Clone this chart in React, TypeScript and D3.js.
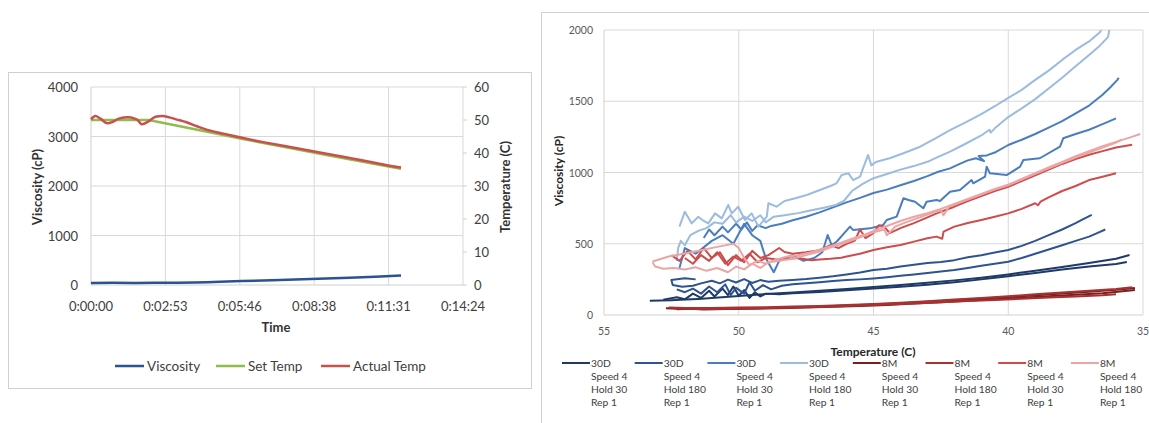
import React from 'react';
import * as d3 from 'd3';

// ---------------- Left chart data ----------------
const timeTicks = [0, 172.8, 345.6, 518.4, 691.2, 864];
const timeTickLabels = ['0:00:00', '0:02:53', '0:05:46', '0:08:38', '0:11:31', '0:14:24'];
const viscTicksLeft = [0, 1000, 2000, 3000, 4000];
const tempTicksLeft = [0, 10, 20, 30, 40, 50, 60];

const viscTime = [0, 50, 100, 150, 200, 240, 270, 300, 350, 420, 510, 600, 660, 720];
const viscValues = [40, 44, 42, 45, 45, 50, 58, 65, 80, 95, 120, 145, 165, 190];

const setTempTime = [0, 134, 250, 350, 450, 550, 650, 720];
const setTempValues = [50, 50, 47.0, 44.3, 41.8, 39.3, 36.9, 35.2];

const actualTempTime = [0, 10, 22, 38, 50, 66, 86, 100, 108, 118, 134, 150, 166, 182, 198, 222, 246, 270, 310, 351, 400, 450, 500, 550, 600, 650, 700, 720];
const actualTempValues = [50.2, 51.2, 50.4, 49.0, 49.4, 50.5, 50.8, 50.5, 50.0, 48.7, 49.6, 51.0, 51.2, 50.8, 50.2, 49.3, 48.1, 47.0, 45.8, 44.6, 43.3, 42.1, 40.9, 39.7, 38.5, 37.3, 36.0, 35.6];

const leftLegendNames = ['Viscosity', 'Set Temp', 'Actual Temp'];
const leftColors = ['#2b5291', '#8fbc4c', '#c9504c'];

// ---------------- Right chart data ----------------
const tempTicksRight = [55, 50, 45, 40, 35];
const viscTicksRight = [0, 500, 1000, 1500, 2000];

const legendSample = ['30D', '30D', '30D', '30D', '8M', '8M', '8M', '8M'];
const legendSpeed = ['Speed 4', 'Speed 4', 'Speed 4', 'Speed 4', 'Speed 4', 'Speed 4', 'Speed 4', 'Speed 4'];
const legendHold = ['Hold 30', 'Hold 180', 'Hold 30', 'Hold 180', 'Hold 30', 'Hold 180', 'Hold 30', 'Hold 180'];
const legendRep = ['Rep 1', 'Rep 1', 'Rep 1', 'Rep 1', 'Rep 1', 'Rep 1', 'Rep 1', 'Rep 1'];
const rightColors = ['#1f3a68', '#2d5391', '#4a7dc0', '#9bbbe0', '#7a1f1f', '#a83232', '#cd4c4c', '#eba5a5'];

// [temperature C, viscosity cP]
const d1: number[][] = [[53.3,100],[52.5,104],[52.0,108],[51.5,113],[51.0,119],[50.5,126],[50.0,133],[49.5,140],[49.0,147],[48.5,152],[48.0,158],[47.0,170],[46.0,183],[45.0,197],[44.0,211],[43.0,226],[42.0,243],[41.0,262],[40.0,285],[39.0,310],[38.0,337],[37.0,365],[36.0,395],[35.5,421]];
const d2: number[][] = [[52.8,108],[52.3,125],[52.0,110],[51.7,150],[51.4,120],[51.1,170],[50.9,130],[50.6,185],[50.4,140],[50.2,200],[50.0,135],[49.8,175],[49.6,120],[49.4,160],[49.2,130],[49.0,150],[48.5,145],[48.0,152],[47.0,162],[46.0,173],[45.0,186],[44.0,198],[43.0,213],[42.0,230],[41.0,250],[40.0,272],[39.0,295],[38.0,320],[37.0,340],[36.0,358],[35.6,372]];
const n1: number[][] = [[51.6,250],[52.0,258],[52.5,245],[52.45,210],[52.1,198],[51.7,205],[51.4,222],[51.0,240],[50.7,222],[50.4,248],[50.1,228],[49.8,252],[49.5,225],[49.2,245],[48.9,233],[48.5,240],[48.0,245],[47.5,252],[47.0,262],[46.5,272],[46.0,285],[45.5,298],[45.0,316],[44.5,325],[44.0,340],[43.5,352],[43.0,365],[42.5,372],[42.0,385],[41.5,405],[41.0,420],[40.5,438],[40.0,456],[39.5,485],[39.0,520],[38.5,560],[38.0,600],[37.5,645],[37.2,675],[36.9,702]];
const n2: number[][] = [[52.3,180],[52.0,160],[51.7,185],[51.4,150],[51.1,200],[50.8,160],[50.5,215],[50.3,140],[50.1,190],[49.8,150],[49.6,230],[49.4,170],[49.1,210],[48.8,180],[48.4,205],[48.0,215],[47.5,222],[47.0,230],[46.5,238],[46.0,245],[45.5,250],[45.0,257],[44.5,265],[44.0,275],[43.5,285],[43.0,295],[42.5,305],[42.0,316],[41.5,330],[41.0,345],[40.5,360],[40.0,374],[39.5,400],[39.0,430],[38.5,460],[38.0,490],[37.5,520],[37.0,550],[36.7,575],[36.4,600]];
const m1: number[][] = [[51.3,540],[51.1,600],[50.9,560],[50.6,620],[50.4,580],[50.1,640],[49.9,600],[49.7,650],[49.5,590],[49.3,630],[49.0,610],[48.8,625],[48.4,640],[48.0,665],[47.5,690],[47.0,720],[46.5,755],[46.0,790],[45.5,822],[45.0,856],[44.5,880],[44.0,910],[43.5,940],[43.0,975],[42.6,1005],[42.16,1029],[41.8,1060],[41.5,1085],[41.2,1100],[40.9,1080],[41.1,1115],[40.8,1120],[40.5,1140],[40.0,1193],[39.5,1230],[39.0,1270],[38.5,1315],[38.0,1360],[37.5,1415],[37.0,1470],[36.5,1545],[36.2,1600],[35.95,1650],[35.9,1665]];
const m2: number[][] = [[52.2,330],[52.0,470],[51.6,430],[51.0,520],[50.6,560],[50.2,500],[49.8,640],[49.5,560],[49.2,520],[49.0,400],[48.7,300],[48.5,380],[48.0,420],[47.6,380],[47.2,400],[46.9,440],[46.7,561],[46.55,491],[46.37,514],[45.87,620],[45.75,596],[45.13,608],[44.64,632],[44.51,667],[44.14,690],[43.89,819],[43.7,807],[43.46,795],[43.15,749],[43.03,795],[42.66,807],[42.53,800],[42.16,865],[41.79,877],[41.36,947],[41.3,924],[40.86,971],[40.8,1041],[40.68,994],[40.06,982],[39.56,1041],[39.44,1088],[38.83,1100],[38.08,1181],[37.96,1240],[37.5,1270],[37.0,1300],[36.5,1340],[36.0,1380]];
const l1: number[][] = [[52.2,620],[52.0,725],[51.75,643],[51.5,690],[51.3,660],[51.13,643],[50.88,713],[50.63,678],[50.39,772],[50.26,713],[50.02,760],[49.77,667],[49.52,713],[49.27,620],[48.96,690],[48.9,784],[48.6,760],[48.3,800],[47.9,819],[47.48,842],[46.99,877],[46.6,905],[46.37,924],[46.18,982],[45.93,994],[45.75,947],[45.5,971],[45.32,1064],[45.2,1123],[45.08,1050],[44.98,1064],[44.88,1076],[44.4,1100],[43.89,1135],[43.27,1181],[42.7,1240],[42.16,1298],[41.6,1350],[41.0,1410],[40.5,1465],[40.0,1523],[39.5,1580],[39.0,1650],[38.5,1715],[38.0,1790],[37.5,1860],[37.0,1920],[36.6,1985],[36.45,2030]];
const l2: number[][] = [[52.3,380],[52.25,470],[52.15,520],[52.0,490],[51.8,560],[51.5,590],[51.2,610],[50.9,650],[50.6,640],[50.3,700],[50.1,650],[49.8,690],[49.5,660],[49.2,700],[49.0,650],[48.7,690],[48.3,700],[47.8,715],[47.3,735],[46.8,755],[46.4,772],[46.1,800],[45.8,870],[45.4,920],[45.0,960],[44.5,990],[44.0,1020],[43.5,1045],[43.0,1075],[42.6,1110],[42.16,1146],[41.6,1200],[41.0,1260],[40.7,1300],[40.65,1280],[40.5,1310],[40.0,1389],[39.5,1450],[39.0,1515],[38.5,1590],[38.0,1665],[37.5,1745],[37.0,1825],[36.6,1890],[36.3,1950],[36.25,2000],[36.2,2040]];
const dr1: number[][] = [[52.7,48],[52.2,44],[51.5,46],[51.0,44],[50.5,46],[50.0,47],[49.0,50],[48.0,54],[47.0,60],[46.0,66],[45.0,73],[44.0,82],[43.0,93],[42.0,104],[41.0,115],[40.0,126],[39.0,138],[38.0,150],[37.0,163],[36.0,177],[35.3,190]];
const dr2: number[][] = [[52.3,40],[51.8,44],[51.3,38],[50.5,42],[49.5,44],[48.5,48],[47.5,53],[46.5,58],[45.5,64],[44.5,71],[43.5,80],[42.5,90],[41.5,100],[40.5,110],[39.5,121],[38.5,132],[37.5,142],[36.5,153],[35.3,175]];
const dr3: number[][] = [[52.6,52],[52.0,50],[51.0,50],[50.0,52],[49.0,55],[48.0,59],[47.0,64],[46.0,70],[45.0,77],[44.0,86],[43.0,97],[42.0,108],[41.0,120],[40.0,132],[39.0,145],[38.0,158],[37.0,170],[36.0,183],[35.4,195]];
const dr4: number[][] = [[52.4,45],[51.5,42],[50.5,44],[49.5,46],[48.5,50],[47.5,55],[46.5,60],[45.5,66],[44.5,73],[43.5,81],[42.5,90],[41.5,98],[40.5,106],[39.5,114],[38.5,122],[37.5,130],[36.5,138],[36.0,145]];
const r1: number[][] = [[52.0,400],[51.7,360],[51.4,420],[51.1,380],[50.8,440],[50.5,360],[50.2,410],[49.9,380],[49.6,430],[49.3,370],[49.0,400],[48.6,390],[48.2,395],[47.8,400],[47.3,385],[47.0,390],[46.6,395],[46.2,402],[46.0,410],[45.5,430],[45.0,456],[44.5,475],[44.0,491],[43.5,515],[43.0,538],[42.66,550],[42.45,535],[42.4,585],[42.0,620],[41.5,645],[41.0,667],[40.5,690],[40.0,713],[39.5,745],[39.0,784],[38.9,770],[38.8,795],[38.5,825],[38.0,870],[37.5,905],[37.0,947],[36.5,970],[36.0,995]];
const r2: number[][] = [[52.5,420],[52.2,380],[51.9,450],[51.6,390],[51.3,470],[51.0,400],[50.7,440],[50.4,350],[50.1,420],[49.8,370],[49.5,450],[49.2,400],[48.9,420],[48.5,470],[48.3,442],[48.0,430],[47.5,440],[47.0,455],[46.6,490],[46.3,470],[46.0,500],[45.7,520],[45.5,600],[45.3,540],[45.0,575],[44.8,630],[44.6,620],[44.4,575],[44.0,610],[43.5,645],[43.0,685],[42.5,725],[42.0,760],[41.5,800],[41.0,835],[40.5,870],[40.0,900],[39.5,940],[39.0,980],[38.5,1020],[38.0,1060],[37.5,1095],[37.0,1125],[36.5,1150],[36.0,1175],[35.4,1195]];
const p1: number[][] = [[53.2,375],[52.6,410],[52.0,432],[51.4,455],[50.8,478],[50.2,500],[50.0,470],[49.8,400],[49.6,350],[49.3,380],[49.0,360],[48.6,390],[48.2,410],[47.8,420],[47.3,440],[46.8,470],[46.3,500],[45.8,535],[45.3,565],[45.0,590],[44.5,625],[44.0,660],[43.5,690],[43.0,715],[42.5,745],[42.0,780],[41.5,815],[41.0,850],[40.5,885],[40.0,915],[39.5,955],[39.0,995],[38.5,1035],[38.0,1075],[37.5,1115],[37.0,1150],[36.5,1185],[36.0,1215],[35.5,1245],[35.1,1270]];
const p2: number[][] = [[53.2,370],[53.1,340],[52.8,325],[52.4,330],[52.0,320],[51.6,335],[51.2,310],[50.8,330],[50.4,300],[50.1,340],[49.8,320],[49.5,360],[49.2,330],[48.9,370],[48.5,380],[48.0,395],[47.5,420],[47.0,445],[46.5,480],[46.0,510],[45.5,545],[45.0,580],[44.6,600],[44.5,560],[44.2,620],[43.8,650],[43.0,705],[42.5,735],[42.4,700],[42.2,760],[41.5,810],[41.0,845],[40.5,880],[40.0,910],[39.5,950],[39.0,990],[38.5,1030],[38.0,1068],[37.5,1105],[37.0,1140],[36.5,1175],[36.0,1210],[35.8,1230]];

const rightSeries = [
  { data: d1, c: 0 }, { data: d2, c: 0 },
  { data: n1, c: 1 }, { data: n2, c: 1 },
  { data: m1, c: 2 }, { data: m2, c: 2 },
  { data: l1, c: 3 }, { data: l2, c: 3 },
  { data: dr1, c: 4 }, { data: dr2, c: 4 },
  { data: dr3, c: 5 }, { data: dr4, c: 5 },
  { data: r1, c: 6 }, { data: r2, c: 6 },
  { data: p1, c: 7 }, { data: p2, c: 7 },
];

const FONT = 'Lato, "Open Sans", sans-serif';

function LeftChart() {
  const x = d3.scaleLinear().domain([0, 864]).range([91, 463]);
  const yV = d3.scaleLinear().domain([0, 4000]).range([285, 87]);
  const yT = d3.scaleLinear().domain([0, 60]).range([285, 87]);
  const lineV = d3.line<number>().x((_, i) => x(viscTime[i])).y((d) => yV(d));
  const lineS = d3.line<number>().x((_, i) => x(setTempTime[i])).y((d) => yT(d));
  const lineA = d3.line<number>().x((_, i) => x(actualTempTime[i])).y((d) => yT(d)).curve(d3.curveMonotoneX);
  const legendX = [115, 216, 321];
  return (
    <g fontFamily={FONT}>
      <rect x={8.5} y={72.5} width={523} height={316} fill="#fff" stroke="#d0d0d0" />
      {viscTicksLeft.slice(1).map((v) => (
        <line key={'h' + v} x1={91} x2={463} y1={yV(v)} y2={yV(v)} stroke="#d9d9d9" />
      ))}
      {timeTicks.slice(1).map((t) => (
        <line key={'v' + t} x1={x(t)} x2={x(t)} y1={87} y2={285} stroke="#d9d9d9" />
      ))}
      <line x1={91} x2={91} y1={87} y2={285} stroke="#d0d0d0" />
      <line x1={91} x2={463} y1={285} y2={285} stroke="#d0d0d0" />
      {tempTicksLeft.map((t) => (
        <line key={'rt' + t} x1={463} x2={467} y1={yT(t)} y2={yT(t)} stroke="#d0d0d0" />
      ))}
      {viscTicksLeft.map((v) => (
        <text key={'lv' + v} x={78} y={yV(v)} textAnchor="end" dominantBaseline="central" fontSize={13} fill="#404040">{v}</text>
      ))}
      {tempTicksLeft.map((t) => (
        <text key={'lt' + t} x={474} y={yT(t)} textAnchor="start" dominantBaseline="central" fontSize={13} fill="#404040">{t}</text>
      ))}
      {timeTicks.map((t, i) => (
        <text key={'tx' + t} x={x(t)} y={306} textAnchor="middle" dominantBaseline="central" fontSize={13} fill="#404040">{timeTickLabels[i]}</text>
      ))}
      <text x={276} y={327} textAnchor="middle" dominantBaseline="central" fontSize={13} fontWeight="bold" fill="#333">Time</text>
      <text transform="translate(37,187) rotate(-90)" textAnchor="middle" dominantBaseline="central" fontSize={13} fontWeight="bold" fill="#333">Viscosity (cP)</text>
      <text transform="translate(505,187) rotate(-90)" textAnchor="middle" dominantBaseline="central" fontSize={13} fontWeight="bold" fill="#333">Temperature (C)</text>
      <path d={lineV(viscValues) || ''} fill="none" stroke={leftColors[0]} strokeWidth={2.5} />
      <path d={lineS(setTempValues) || ''} fill="none" stroke={leftColors[1]} strokeWidth={2.5} />
      <path d={lineA(actualTempValues) || ''} fill="none" stroke={leftColors[2]} strokeWidth={2.5} />
      {leftLegendNames.map((n, i) => (
        <g key={n}>
          <line x1={legendX[i]} x2={legendX[i] + 29} y1={366} y2={366} stroke={leftColors[i]} strokeWidth={2.5} />
          <text x={legendX[i] + 32} y={366} dominantBaseline="central" fontSize={13.5} fill="#404040">{n}</text>
        </g>
      ))}
    </g>
  );
}

function RightChart() {
  const x = d3.scaleLinear().domain([55, 35]).range([604, 1143]);
  const y = d3.scaleLinear().domain([0, 2000]).range([315, 30]);
  const line = d3.line<number[]>().x((d) => x(d[0])).y((d) => y(d[1]));
  const legendStart = 562;
  const legendStep = 72.7;
  return (
    <g fontFamily={FONT}>
      <rect x={541.5} y={12.5} width={620} height={420} fill="#fff" stroke="#d0d0d0" />
      <defs>
        <clipPath id="rclip">
          <rect x={604} y={30} width={539} height={285} />
        </clipPath>
      </defs>
      {viscTicksRight.slice(1).map((v) => (
        <line key={'h' + v} x1={604} x2={1143} y1={y(v)} y2={y(v)} stroke="#d9d9d9" />
      ))}
      {tempTicksRight.slice(1).map((t) => (
        <line key={'v' + t} x1={x(t)} x2={x(t)} y1={30} y2={315} stroke="#d9d9d9" />
      ))}
      <line x1={604} x2={604} y1={30} y2={315} stroke="#d0d0d0" />
      <line x1={604} x2={1143} y1={315} y2={315} stroke="#d0d0d0" />
      {viscTicksRight.map((v) => (
        <text key={'yl' + v} x={593} y={y(v)} textAnchor="end" dominantBaseline="central" fontSize={10.5} fill="#595959">{v}</text>
      ))}
      {tempTicksRight.map((t) => (
        <text key={'xl' + t} x={x(t)} y={331} textAnchor="middle" dominantBaseline="central" fontSize={10.5} fill="#595959">{t}</text>
      ))}
      <text x={873} y={351} textAnchor="middle" dominantBaseline="central" fontSize={12} fontWeight="bold" fill="#262626">Temperature (C)</text>
      <text transform="translate(558,171) rotate(-90)" textAnchor="middle" dominantBaseline="central" fontSize={12} fontWeight="bold" fill="#262626">Viscosity (cP)</text>
      <g clipPath="url(#rclip)">
        {rightSeries.map((s, i) => (
          <path key={i} d={line(s.data) || ''} fill="none" stroke={rightColors[s.c]} strokeWidth={2} strokeLinejoin="round" />
        ))}
      </g>
      {legendSample.map((s, i) => {
        const lx = legendStart + i * legendStep;
        return (
          <g key={'lg' + i}>
            <line x1={lx} x2={lx + 28} y1={363} y2={363} stroke={rightColors[i]} strokeWidth={2} />
            <text x={lx + 29} y={363} dominantBaseline="central" fontSize={10.3} fill="#404040">{s}</text>
            <text x={lx + 29} y={376} dominantBaseline="central" fontSize={10.3} fill="#404040">{legendSpeed[i]}</text>
            <text x={lx + 29} y={389} dominantBaseline="central" fontSize={10.3} fill="#404040">{legendHold[i]}</text>
            <text x={lx + 29} y={402} dominantBaseline="central" fontSize={10.3} fill="#404040">{legendRep[i]}</text>
          </g>
        );
      })}
    </g>
  );
}

export default function App() {
  return (
    <svg width={1149} height={423} style={{ position: 'absolute', left: 0, top: 0, background: '#fff' }}>
      <rect x={0} y={0} width={1149} height={423} fill="#fff" />
      <LeftChart />
      <RightChart />
    </svg>
  );
}
